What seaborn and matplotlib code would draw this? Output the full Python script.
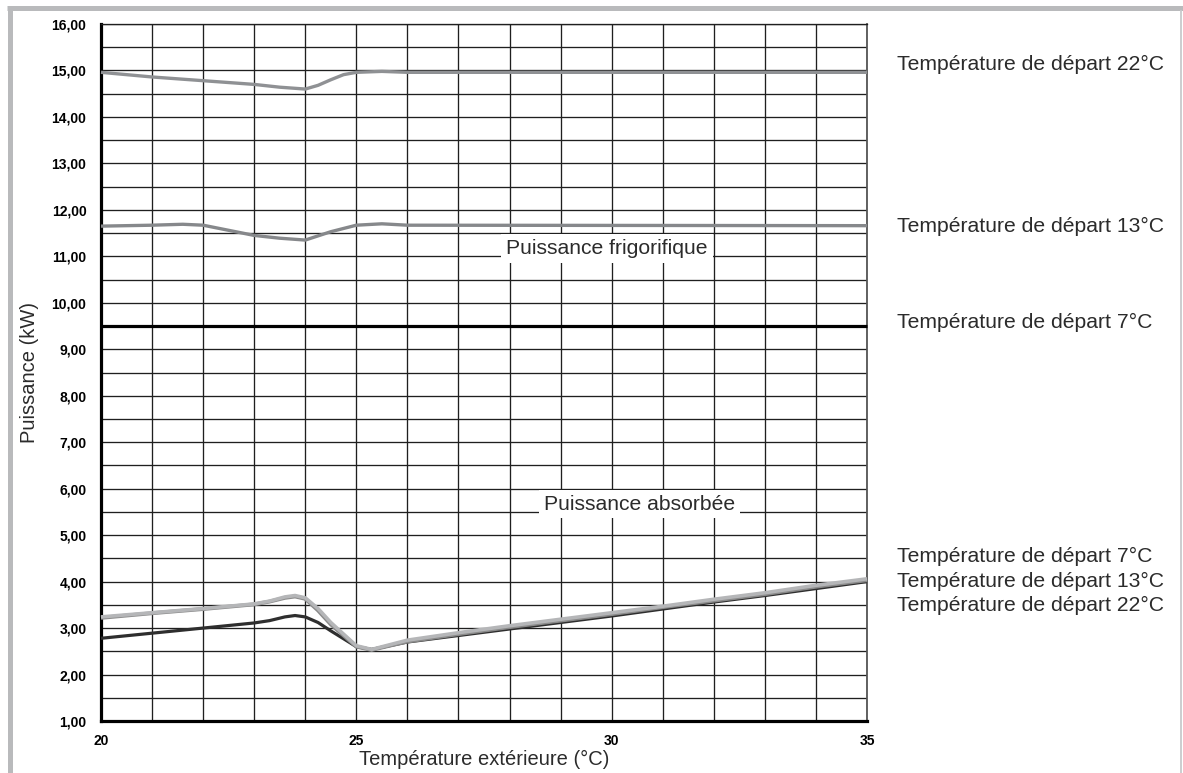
import matplotlib
matplotlib.use("Agg")
import matplotlib.pyplot as plt
from matplotlib.ticker import MultipleLocator, FixedLocator, FuncFormatter
from matplotlib.lines import Line2D
import seaborn as sns
import pandas as pd

# --- cooling capacity (Puissance frigorifique), kW ---
x_frigo_22 = [20, 21, 22, 23, 23.5, 24, 24.25, 24.5, 24.75, 25, 25.5, 26, 35]
y_frigo_22 = [14.96, 14.86, 14.78, 14.70, 14.64, 14.60, 14.68, 14.80, 14.91, 14.96, 14.98, 14.96, 14.96]

x_frigo_13 = [20, 21, 21.6, 22, 22.5, 23, 23.5, 24, 24.5, 25, 25.5, 26, 35]
y_frigo_13 = [11.65, 11.67, 11.69, 11.67, 11.56, 11.45, 11.39, 11.35, 11.53, 11.67, 11.70, 11.67, 11.66]

x_frigo_7 = [20, 35]
y_frigo_7 = [9.50, 9.50]

# --- absorbed power (Puissance absorbée), kW ---
x_abs = [20, 21, 22, 23, 23.3, 23.6, 23.8, 24, 24.25, 24.5, 25, 25.3, 26, 27, 28, 29, 30, 31, 32, 33, 34, 35]
y_abs_7 = [2.78, 2.89, 3.00, 3.11, 3.16, 3.24, 3.27, 3.24, 3.12, 2.94, 2.60, 2.54, 2.70, 2.84, 2.98, 3.12, 3.26, 3.41, 3.56, 3.70, 3.85, 4.00]
y_abs_13 = [3.24, 3.33, 3.42, 3.52, 3.58, 3.67, 3.70, 3.65, 3.42, 3.12, 2.62, 2.54, 2.74, 2.90, 3.05, 3.19, 3.33, 3.47, 3.62, 3.76, 3.92, 4.06]
y_abs_22 = [3.22, 3.32, 3.41, 3.51, 3.57, 3.65, 3.68, 3.63, 3.38, 3.08, 2.60, 2.53, 2.71, 2.87, 3.02, 3.16, 3.30, 3.45, 3.59, 3.73, 3.89, 4.03]

x_ticks = [20, 25, 30, 35]
y_ticks = list(range(1, 17))

labels_frigo = ["Température de départ 22°C", "Température de départ 13°C", "Température de départ 7°C"]
labels_abs = ["Température de départ 7°C", "Température de départ 13°C", "Température de départ 22°C"]

W, H = 1183, 773
sns.set_theme(style="white")
plt.rcParams["font.family"] = ["Liberation Sans", "DejaVu Sans"]

fig = plt.figure(figsize=(W / 100, H / 100), dpi=100)
ax = fig.add_axes([101 / W, 1 - 721 / H, 766 / W, 697 / H])

TXT = "#2b2b2b"
FS = 15.2


def draw(xs, ys, color, lw, zorder):
    df = pd.DataFrame({"x": xs, "y": ys})
    sns.lineplot(data=df, x="x", y="y", ax=ax, color=color, linewidth=lw,
                 sort=False, estimator=None, zorder=zorder, clip_on=False,
                 solid_joinstyle="round", solid_capstyle="butt")


draw(x_frigo_22, y_frigo_22, "#8f9194", 2.4, 5)
draw(x_frigo_13, y_frigo_13, "#86888b", 2.4, 5)
draw(x_frigo_7, y_frigo_7, "#000000", 2.3, 5)

draw(x_abs, y_abs_7, "#2e2e2e", 2.3, 5)
draw(x_abs, y_abs_22, "#8a8a8a", 2.8, 6)
draw(x_abs, y_abs_13, "#b5b6b8", 2.6, 7)

ax.set_xlim(20, 35)
ax.set_ylim(1, 16)

# grid: every degree, every half kW
ax.xaxis.set_major_locator(FixedLocator(x_ticks))
ax.xaxis.set_minor_locator(MultipleLocator(1))
ax.yaxis.set_major_locator(FixedLocator(y_ticks))
ax.yaxis.set_minor_locator(MultipleLocator(0.5))
ax.grid(True, which="both", color="#1f1f1f", linewidth=0.95)
ax.set_axisbelow(True)

ax.yaxis.set_major_formatter(FuncFormatter(lambda v, p: f"{v:.2f}".replace(".", ",")))
ax.xaxis.set_major_formatter(FuncFormatter(lambda v, p: f"{v:.0f}"))

ax.tick_params(axis="both", which="major", direction="out", length=4, width=1.5,
               color="black", labelsize=10, labelcolor="black")
ax.tick_params(axis="y", which="major", pad=6.5)
ax.tick_params(axis="x", which="major", pad=5.5)
ax.tick_params(which="minor", length=0)
for lab in ax.get_xticklabels() + ax.get_yticklabels():
    lab.set_fontweight("bold")

for side in ("left", "bottom"):
    ax.spines[side].set_color("black")
    ax.spines[side].set_linewidth(2.3)
ax.spines["right"].set_color("#555555")
ax.spines["right"].set_linewidth(1.3)
ax.spines["top"].set_color("#1f1f1f")
ax.spines["top"].set_linewidth(0.95)

ax.set_xlabel("Température extérieure (°C)", fontsize=14.5, color=TXT)
ax.set_ylabel("Puissance (kW)", fontsize=14.5, color=TXT)
ax.xaxis.set_label_coords(0.5, -0.041)
ax.yaxis.set_label_coords(-0.081, 0.5)

# section captions on the grid
box = dict(facecolor="white", edgecolor="none", pad=3.5)
ax.text(29.91, 11.05, "Puissance frigorifique", fontsize=FS, color=TXT,
        ha="center", va="baseline", bbox=box, zorder=4)
ax.text(30.55, 5.55, "Puissance absorbée", fontsize=FS, color=TXT,
        ha="center", va="baseline", bbox=box, zorder=4)

# series captions to the right of the plot (baselines in pixels from the top)
right_x = 897 / W
for lab, ypx in zip(labels_frigo, [70, 232, 328]):
    fig.text(right_x, 1 - ypx / H, lab, fontsize=FS, color=TXT, va="baseline", ha="left")
for lab, ypx in zip(labels_abs, [562, 587, 611]):
    fig.text(right_x, 1 - ypx / H, lab, fontsize=FS, color=TXT, va="baseline", ha="left")

# page frame
frame = "#b9babc"
fig.add_artist(Line2D([9.5 / W, 9.5 / W], [0, 1 - 10 / H], color=frame, linewidth=3.6,
                      solid_capstyle="butt", transform=fig.transFigure))
fig.add_artist(Line2D([7 / W, 1183 / W], [1 - 7.5 / H, 1 - 7.5 / H], color=frame, linewidth=3.6,
                      solid_capstyle="butt", transform=fig.transFigure))
fig.add_artist(Line2D([1181 / W, 1181 / W], [0, 1 - 10 / H], color="#c8c9cb", linewidth=1.3,
                      solid_capstyle="butt", transform=fig.transFigure))

fig.savefig("out.png", dpi=100, facecolor="white")
